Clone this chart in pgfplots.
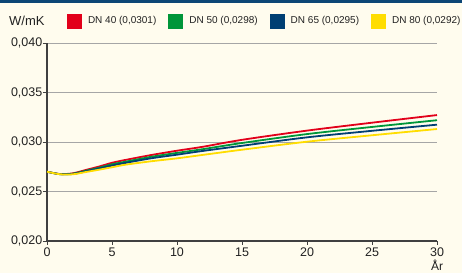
\documentclass[border=0pt]{standalone}
\usepackage{pgfplots}
\pgfplotsset{compat=1.18}
\usepackage{fontspec}
\setmainfont{Liberation Sans}
\definecolor{bgc}{HTML}{FFFCEE}
\definecolor{topband}{HTML}{0C4675}
\definecolor{cred}{HTML}{E2001A}
\definecolor{cgreen}{HTML}{009639}
\definecolor{cblue}{HTML}{003F73}
\definecolor{cyellow}{HTML}{FFDD00}
\definecolor{txt}{HTML}{222222}
\begin{document}
\begin{tikzpicture}
\fill[bgc] (0,0) rectangle (462bp,273bp);
\fill[topband] (0,270bp) rectangle (462bp,273bp);
\useasboundingbox (0,0) rectangle (462bp,273bp);
\begin{axis}[
  at={(47bp,32bp)}, anchor=south west,
  scale only axis, width=390bp, height=198bp,
  xmin=0, xmax=30, ymin=0.020, ymax=0.040,
  axis lines=left, axis line style={-, draw=black!75, line width=1.2bp},
  xtick={0,5,10,15,20,25,30},
  ytick={0.020,0.025,0.030,0.035,0.040},
  scaled y ticks=false,
  yticklabel style={/pgf/number format/fixed, /pgf/number format/fixed zerofill, /pgf/number format/precision=3, /pgf/number format/use comma, inner sep=0pt, xshift=-0.5bp},
  /pgf/number format/assume math mode=true,
  ticklabel style={font=\fontsize{12.5bp}{14bp}\selectfont, text=txt},
  tick align=outside, major tick length=4bp,
  tick style={draw=black!75, line width=1bp},
  xticklabel style={inner sep=0pt, yshift=-3bp},
  ymajorgrids, grid style={draw=black!35, line width=0.8bp},
  ylabel={W/mK},
  ylabel style={rotate=-90, at={(axis description cs:-0.0974,1.111)}, anchor=west, inner sep=0pt, font=\fontsize{13bp}{15bp}\selectfont, text=txt},
  xlabel={År},
  xlabel style={at={(axis description cs:1,0)}, anchor=north, inner sep=0pt, yshift=-18.5bp, font=\fontsize{12bp}{14bp}\selectfont, text=txt},
  legend columns=4,
  legend style={at={(axis description cs:0.0513,1.111)}, anchor=west, draw=none, fill=none,
    inner sep=0pt, outer sep=0pt,
    font=\fontsize{10bp}{12bp}\selectfont, text=txt,
    nodes={inner sep=0pt},
    /tikz/every odd column/.append style={column sep=6bp},
    /tikz/every even column/.append style={column sep=12bp}},
  legend image code/.code={\fill[#1, draw=none] (0bp,-7.5bp) rectangle (15bp,7.5bp);},
  every axis plot/.append style={line width=1.8bp, smooth, no markers},
  clip=false,
]
\addplot[cred] coordinates {(0,0.0270)(1,0.02676)(2,0.02684)(3,0.02718)(4,0.02752)(5,0.02790)(6,0.02818)(8,0.02868)(10,0.02912)(12,0.02952)(15,0.03022)(20,0.03115)(25,0.03195)(30,0.03272)};
\addlegendentry{DN 40 (0,0301)}
\addplot[cgreen] coordinates {(0,0.0270)(1,0.02675)(2,0.02680)(3,0.02710)(4,0.02740)(5,0.02775)(6,0.02800)(8,0.02850)(10,0.02890)(12,0.02928)(15,0.02990)(20,0.03080)(25,0.03152)(30,0.03220)};
\addlegendentry{DN 50 (0,0298)}
\addplot[cblue] coordinates {(0,0.0270)(1,0.02675)(2,0.02677)(3,0.02704)(4,0.02732)(5,0.02762)(6,0.02788)(8,0.02835)(10,0.02872)(12,0.02910)(15,0.02962)(20,0.03047)(25,0.03113)(30,0.03175)};
\addlegendentry{DN 65 (0,0295)}
\addplot[cyellow] coordinates {(0,0.0270)(1,0.02674)(2,0.02674)(3,0.02697)(4,0.02720)(5,0.02745)(6,0.02770)(8,0.02805)(10,0.02835)(12,0.02870)(15,0.02922)(20,0.03003)(25,0.03068)(30,0.03131)};
\addlegendentry{DN 80 (0,0292)}
\end{axis}
\end{tikzpicture}
\end{document}
